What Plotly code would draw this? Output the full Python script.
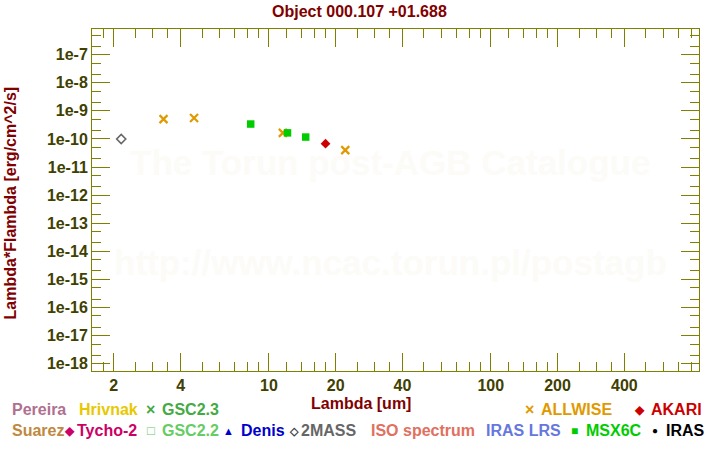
import numpy as np
import plotly.graph_objects as go

# ---- data ----
twomass_wl = [2.16]
twomass_flux = [1.0e-10]
allwise_wl = [3.35, 4.6, 11.56, 22.09]
allwise_flux = [5.1e-10, 5.6e-10, 1.65e-10, 4.0e-11]
msx_wl = [8.28, 12.13, 14.65]
msx_flux = [3.4e-10, 1.65e-10, 1.17e-10]
akari_wl = [18.0]
akari_flux = [6.8e-11]

x_major = [2, 4, 10, 20, 40, 100, 200, 400]
x_minor = [1.6, 1.8, 2.5, 3, 3.5, 5, 6, 7, 8, 9, 12, 14, 16, 18, 25, 30, 35,
           50, 60, 70, 80, 90, 120, 140, 160, 180, 250, 300, 350, 500, 600, 700, 800]
y_exps = list(range(-7, -19, -1))
y_labels = ["1e%d" % e for e in y_exps]

OLIVE = "#808000"
TICKFONT = "#404000"
DARKRED = "#800000"
FONT = "Liberation Sans"

fig = go.Figure()
fig.add_trace(go.Scatter(x=twomass_wl, y=twomass_flux, mode="markers",
                         marker=dict(symbol="diamond-open", size=7, color="#666666",
                                     line=dict(width=1.6, color="#666666"))))
fig.add_trace(go.Scatter(x=allwise_wl, y=allwise_flux, mode="markers",
                         marker=dict(symbol="x-thin", size=8, color="#e09a00",
                                     line=dict(width=2.2, color="#e09a00"))))
fig.add_trace(go.Scatter(x=msx_wl, y=msx_flux, mode="markers",
                         marker=dict(symbol="square", size=7.5, color="#00cc00",
                                     line=dict(width=0))))
fig.add_trace(go.Scatter(x=akari_wl, y=akari_flux, mode="markers",
                         marker=dict(symbol="diamond", size=7.5, color="#cc0000",
                                     line=dict(width=0))))

y_minor = []
for e in range(-19, -5):
    for m in (2, 5):
        y_minor.append(m * 10.0 ** e)

fig.update_xaxes(type="log", range=[np.log10(1.595), 2.9385],
                 showgrid=False, zeroline=False,
                 showline=True, linecolor=OLIVE, linewidth=1, mirror="ticks",
                 ticks="inside", ticklen=18, tickwidth=1, tickcolor=OLIVE,
                 tickmode="array", tickvals=x_major, ticktext=[str(v) for v in x_major],
                 tickfont=dict(family=FONT, size=16, color=TICKFONT, weight="bold"),
                 minor=dict(tickmode="array", tickvals=x_minor, ticks="inside",
                            ticklen=9, tickwidth=1, tickcolor=OLIVE, showgrid=False))
fig.update_yaxes(type="log", range=[-18.26, -6.085],
                 showgrid=False, zeroline=False,
                 showline=True, linecolor=OLIVE, linewidth=1, mirror="ticks",
                 ticks="inside", ticklen=18, tickwidth=1, tickcolor=OLIVE,
                 tickmode="array", tickvals=[10.0 ** e for e in y_exps], ticktext=y_labels,
                 tickfont=dict(family=FONT, size=16, color=TICKFONT, weight="bold"),
                 minor=dict(tickmode="array", tickvals=y_minor, ticks="inside",
                            ticklen=9, tickwidth=1, tickcolor=OLIVE, showgrid=False))

ann = []
# watermark
ann.append(dict(text="The Torun post-AGB Catalogue", x=390, y=163))
ann.append(dict(text="http://www.ncac.torun.pl/postagb", x=391, y=263))
annotations = []
for a in ann:
    annotations.append(dict(text="<b>%s</b>" % a["text"], xref="paper", yref="paper",
                            x=(a["x"] - 92.3) / 607.0, y=1 - (a["y"] - 29.3) / 342.0,
                            xanchor="center", yanchor="middle", showarrow=False,
                            font=dict(family=FONT, size=35, color="#fcfbf7")))

def px(xp, yp, text, color, size=16, anchor="left", bold=True):
    annotations.append(dict(text=("<b>%s</b>" % text) if bold else text,
                            xref="paper", yref="paper",
                            x=(xp - 92.3) / 607.0, y=1 - (yp - 29.3) / 342.0,
                            xanchor=anchor, yanchor="middle", showarrow=False,
                            font=dict(family=FONT, size=size, color=color)))

# title & axis titles
px(360, 12, "Object 000.107 +01.688", DARKRED, anchor="center")
px(361, 404, "Lambda [um]", DARKRED, anchor="center")
annotations.append(dict(text="<b>Lambda*Flambda [erg/cm^2/s]</b>", xref="paper", yref="paper",
                        x=(11 - 92.3) / 607.0, y=1 - (203 - 29.3) / 342.0,
                        xanchor="center", yanchor="middle", textangle=-90, showarrow=False,
                        font=dict(family=FONT, size=16, color=DARKRED)))

# legend row 1
r1, r2 = 410, 431
px(10, r1, "Pereira", "#b07090")
px(77, r1, "Hrivnak", "#e8c800")
px(151, r1, "×", "#44aa44", size=16, anchor="center")
px(160, r1, "GSC2.3", "#44aa44")
px(530, r1, "×", "#e09a00", size=16, anchor="center")
px(539, r1, "ALLWISE", "#e09a00")
px(640, r1, "◆", "#cc0000", size=12, anchor="center")
px(649, r1, "AKARI", "#cc0000")
# legend row 2
px(10, r2, "Suarez", "#c08840")
px(70, r2, "◆", "#cc0066", size=12, anchor="center")
px(75, r2, "Tycho-2", "#cc0066")
px(151, r2, "□", "#66cc66", size=13, anchor="center")
px(160, r2, "GSC2.2", "#66cc66")
px(229, r2, "▲", "#0000cc", size=11, anchor="center")
px(239, r2, "Denis", "#0000cc")
px(294, r2, "◇", "#444444", size=11, anchor="center")
px(299, r2, "2MASS", "#666666")
px(369, r2, "ISO spectrum", "#e07060")
px(484, r2, "IRAS LRS", "#6677dd")
px(575, r2, "■", "#00cc00", size=12, anchor="center")
px(584, r2, "MSX6C", "#00cc00")
px(655, r2, "●", "#000000", size=10, anchor="center")
px(664, r2, "IRAS", "#000000")

fig.update_layout(width=720, height=450,
                  margin=dict(l=92, r=21, t=29, b=79),
                  paper_bgcolor="white", plot_bgcolor="white",
                  showlegend=False, annotations=annotations,
                  font=dict(family=FONT))

fig.write_html("out.html", config={"displayModeBar": False},
               post_script="document.body.style.margin='0';document.body.style.padding='0';")
